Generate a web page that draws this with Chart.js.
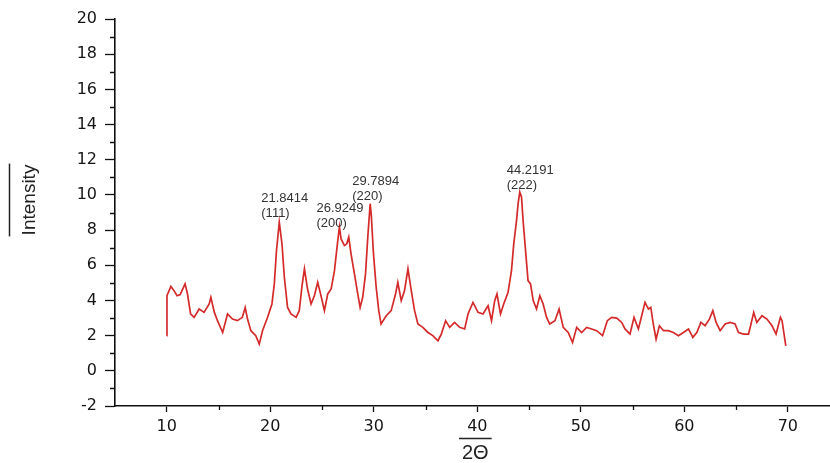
<!DOCTYPE html>
<html>
<head>
<meta charset="utf-8">
<title>XRD</title>
<script src="https://cdn.jsdelivr.net/npm/chart.js@4.4.1/dist/chart.umd.min.js"></script>
<style>
  html, body { margin: 0; padding: 0; background: #fff; }
  #grafico { display: block; }
</style>
</head>
<body>
<canvas id="grafico" width="830" height="463"></canvas>
<script>
const dosTheta = [
  10.0, 10.02, 10.4, 10.7, 11.0, 11.3, 11.77, 12.0, 12.3, 12.64,
  13.13, 13.6, 14.1, 14.26, 14.6, 14.9, 15.4, 15.87, 16.35, 16.83,
  17.3, 17.58, 17.8, 18.13, 18.6, 18.94, 19.25, 19.74, 20.16, 20.39,
  20.6, 20.87, 21.13, 21.36, 21.67, 22.0, 22.5, 22.8, 23.07, 23.3,
  23.6, 23.94, 24.26, 24.58, 24.9, 25.23, 25.55, 25.88, 26.2, 26.52,
  26.68, 26.84, 27.16, 27.39, 27.58, 27.8, 28.13, 28.45, 28.68, 28.93,
  29.2, 29.42, 29.65, 29.75, 29.97, 30.23, 30.48, 30.7, 31.2, 31.68,
  32.1, 32.32, 32.65, 32.97, 33.3, 33.62, 33.94, 34.26, 34.74, 35.23,
  35.7, 36.2, 36.52, 36.94, 37.33, 37.8, 38.3, 38.78, 39.1, 39.58,
  40.07, 40.55, 41.04, 41.37, 41.68, 41.9, 42.24, 42.55, 42.97, 43.3,
  43.52, 43.79, 43.94, 44.1, 44.27, 44.42, 44.66, 44.9, 45.14, 45.4,
  45.72, 46.04, 46.36, 46.69, 47.0, 47.5, 47.9, 48.3, 48.78, 49.2,
  49.6, 50.08, 50.56, 51.05, 51.53, 52.1, 52.56, 52.98, 53.47, 53.95,
  54.27, 54.75, 55.14, 55.56, 55.88, 56.2, 56.53, 56.76, 57.0, 57.27,
  57.59, 57.98, 58.46, 58.94, 59.43, 59.91, 60.4, 60.82, 61.2, 61.6,
  62.0, 62.42, 62.75, 63.07, 63.46, 63.94, 64.43, 64.9, 65.23, 65.72,
  66.2, 66.44, 66.7, 67.0, 67.5, 67.98, 68.47, 68.86, 69.28, 69.44,
  69.8
];
const intensidad = [
  2.0, 4.27, 4.8, 4.56, 4.27, 4.33, 4.94, 4.38, 3.24, 3.04,
  3.51, 3.32, 3.8, 4.18, 3.32, 2.85, 2.18, 3.23, 2.94, 2.85,
  3.04, 3.6, 2.94, 2.28, 2.0, 1.52, 2.28, 3.04, 3.8, 4.94,
  6.84, 8.45, 7.22, 5.32, 3.6, 3.23, 3.04, 3.42, 4.84, 5.8,
  4.65, 3.8, 4.27, 5.03, 4.27, 3.42, 4.37, 4.65, 5.7, 7.4,
  8.17, 7.5, 7.12, 7.22, 7.6, 6.65, 5.51, 4.37, 3.6, 4.18,
  5.51, 7.6, 9.5, 8.93, 6.65, 4.75, 3.42, 2.66, 3.13, 3.42,
  4.37, 5.03, 3.99, 4.56, 5.8, 4.56, 3.42, 2.66, 2.47, 2.18,
  2.0, 1.71, 2.09, 2.85, 2.47, 2.75, 2.47, 2.38, 3.23, 3.89,
  3.32, 3.23, 3.7, 2.85, 3.99, 4.37, 3.23, 3.8, 4.46, 5.7,
  7.22, 8.55, 9.5, 10.16, 9.88, 8.55, 6.84, 5.13, 4.94, 3.99,
  3.51, 4.27, 3.8, 3.04, 2.66, 2.85, 3.51, 2.47, 2.18, 1.61,
  2.47, 2.18, 2.47, 2.38, 2.28, 2.0, 2.85, 3.04, 3.0, 2.75,
  2.38, 2.09, 3.04, 2.38, 3.13, 3.89, 3.51, 3.6, 2.66, 1.8,
  2.56, 2.28, 2.28, 2.18, 2.0, 2.18, 2.38, 1.9, 2.18, 2.75,
  2.56, 2.94, 3.42, 2.75, 2.28, 2.66, 2.75, 2.66, 2.18, 2.09,
  2.09, 2.66, 3.32, 2.75, 3.13, 2.94, 2.56, 2.09, 3.04, 2.85,
  1.42
];

// picos marcados
const picosTexto = ["21.8414", "26.9249", "29.7894", "44.2191"];
const picosPlano = ["(111)", "(200)", "(220)", "(222)"];
const picosX = [20.87, 26.68, 29.65, 44.1];
const picosY = [8.45, 8.17, 9.5, 10.16];

const tituloY = "Intensity";
const tituloX = "2\u0398";

const FUENTE = "'Liberation Sans', Arial, sans-serif";
const FUENTE_EJES = "'DejaVu Sans', 'Liberation Sans', sans-serif";

// desplazamiento de cada etiqueta respecto a su pico (px)
const desplazamientos = [[-18, -9], [-23, -4], [-18, -7], [-13, -7]];

const puntos = dosTheta.map((x, i) => ({ x: x, y: intensidad[i] }));

const extras = {
  id: "extras",
  afterDraw(chart) {
    const ctx = chart.ctx;
    const sx = chart.scales.x;
    const sy = chart.scales.y;
    ctx.save();

    // ticks menores //
    ctx.strokeStyle = "#111";
    ctx.lineWidth = 1.3;
    ctx.beginPath();
    for (let v = -1; v < 20; v += 2) {
      const py = Math.round(sy.getPixelForValue(v)) + 0.5;
      ctx.moveTo(sx.left - 5, py);
      ctx.lineTo(sx.left, py);
    }
    for (let v = 15; v < 74; v += 10) {
      const px = Math.round(sx.getPixelForValue(v)) + 0.5;
      ctx.moveTo(px, sy.bottom);
      ctx.lineTo(px, sy.bottom + 4);
    }
    ctx.stroke();

    // etiquetas de picos //
    ctx.fillStyle = "#333";
    ctx.font = "13px " + FUENTE;
    ctx.textAlign = "left";
    ctx.textBaseline = "middle";
    picosX.forEach((x, i) => {
      const px = sx.getPixelForValue(x) + desplazamientos[i][0];
      const py = sy.getPixelForValue(picosY[i]) + desplazamientos[i][1];
      ctx.fillText(picosTexto[i], px, py - 15);
      ctx.fillText(picosPlano[i], px, py);
    });

    // titulos con linea superior //
    ctx.fillStyle = "#222";
    ctx.strokeStyle = "#222";
    ctx.lineWidth = 1.5;
    ctx.font = "19px " + FUENTE;
    ctx.textAlign = "center";
    ctx.textBaseline = "alphabetic";

    const cy = 200;
    ctx.save();
    ctx.translate(35, cy);
    ctx.rotate(-Math.PI / 2);
    ctx.fillText(tituloY, 0, 0);
    const wY = ctx.measureText(tituloY).width;
    ctx.beginPath();
    ctx.moveTo(-wY / 2 - 1, -25.5);
    ctx.lineTo(wY / 2 + 1, -25.5);
    ctx.stroke();
    ctx.restore();

    ctx.font = "20px " + FUENTE;
    const cx = sx.getPixelForValue(40) - 2;
    ctx.fillText(tituloX, cx, 459);
    const wX = ctx.measureText(tituloX).width;
    ctx.beginPath();
    ctx.moveTo(cx - wX / 2 - 3, 438.5);
    ctx.lineTo(cx + wX / 2 + 3, 438.5);
    ctx.stroke();

    ctx.restore();
  }
};

new Chart(document.getElementById("grafico"), {
  type: "line",
  data: {
    datasets: [{
      label: "XRD",
      data: puntos,
      borderColor: "#d42a2a",
      borderWidth: 1.7,
      pointRadius: 0,
      tension: 0,
      fill: false
    }]
  },
  options: {
    responsive: false,
    devicePixelRatio: 1,
    animation: false,
    events: [],
    layout: { padding: { top: 19, right: 0, bottom: 0, left: 0 } },
    plugins: {
      legend: { display: false },
      tooltip: { enabled: false }
    },
    scales: {
      x: {
        type: "linear",
        min: 5,
        max: 74.07,
        afterFit: (s) => { s.height = 57; },
        border: { color: "#111", width: 1.6 },
        grid: { drawOnChartArea: false, drawTicks: true, tickLength: 6, color: "#111", tickWidth: 1.3 },
        ticks: {
          stepSize: 10,
          includeBounds: false,
          autoSkip: false,
          maxRotation: 0,
          padding: 5,
          color: "#151515",
          font: { family: FUENTE_EJES, size: 16 },
          callback: (v) => v
        }
      },
      y: {
        type: "linear",
        min: -2,
        max: 20,
        afterFit: (s) => { s.width = 115; },
        border: { color: "#111", width: 1.6 },
        grid: { drawOnChartArea: false, drawTicks: true, tickLength: 10, color: "#111", tickWidth: 1.3 },
        ticks: {
          stepSize: 2,
          autoSkip: false,
          padding: 8,
          color: "#151515",
          font: { family: FUENTE_EJES, size: 16 },
          callback: (v) => v
        }
      }
    }
  },
  plugins: [extras]
});
</script>
</body>
</html>
